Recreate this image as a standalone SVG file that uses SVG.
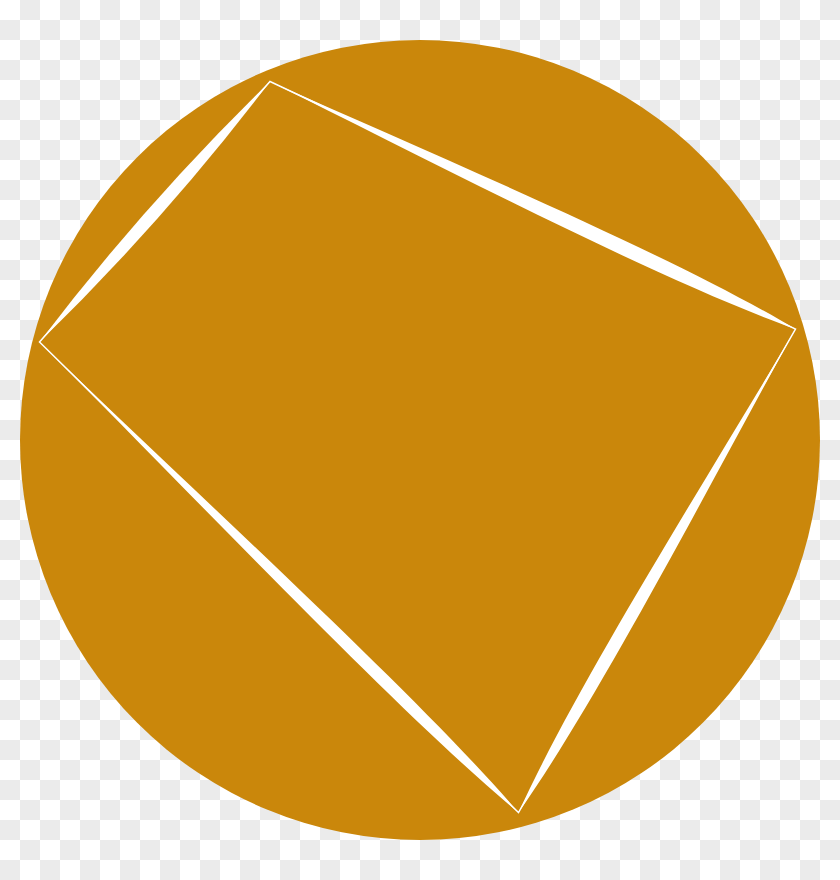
<svg xmlns="http://www.w3.org/2000/svg" width="840" height="880" viewBox="0 0 840 880">
  <defs>
    <pattern id="checker" x="0" y="0" width="40" height="40" patternUnits="userSpaceOnUse">
      <rect width="40" height="40" fill="#ffffff"/>
      <rect x="20" y="0" width="20" height="20" fill="#ebebeb"/>
      <rect x="0" y="20" width="20" height="20" fill="#ebebeb"/>
    </pattern>
  </defs>
  <style>
    .disc { fill: #ca870b; }
    .gap { fill: #ffffff; }
    .outline { fill: none; stroke: #ffffff; stroke-width: 1.5; stroke-linejoin: miter; }
  </style>
  <rect id="background" width="840" height="880" fill="url(#checker)"/>
  <g id="disc">
    <circle class="disc" cx="420" cy="440" r="400"/>
  </g>
  <g id="quadrilateral">
    <polygon class="outline" points="39.5,342 270,81.5 795.5,329 518.5,812.5"/>
    <path class="gap" d="M39.5,342 Q145,203.1 270,81.5 Q164.5,220.4 39.5,342Z"/>
    <path class="gap" d="M270,81.5 C446.9,160.4 670.1,254.4 795.5,329 C658.1,279.8 443.5,167.6 270,81.5Z"/>
    <path class="gap" d="M795.5,329 C705.8,491.7 599,698.1 518.5,812.5 C576.5,685.1 700.6,488.7 795.5,329Z"/>
    <path class="gap" d="M39.5,342 C197.8,500.3 404,718.3 518.5,812.5 C422.2,699.7 200.6,497.4 39.5,342Z"/>
  </g>
</svg>
